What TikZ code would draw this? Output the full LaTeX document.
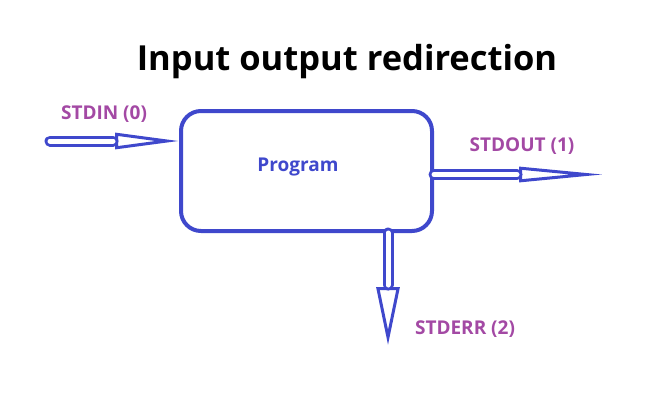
\documentclass[tikz,border=0pt]{standalone}
\usepackage{fontspec}
\setmainfont{Open Sans}
\usetikzlibrary{arrows.meta}

\definecolor{progblue}{HTML}{3F48CC}
\definecolor{streampurple}{HTML}{A349A4}

\begin{document}
\begin{tikzpicture}[
    x=1pt, y=-1pt,
    line cap=round,
    line join=round,
    pipe/.style={progblue, line width=3pt, double=white, double distance=5pt},
    pipehead/.style={progblue, line width=3pt, miter limit=25},
    streamlabel/.style={text=streampurple, font=\bfseries\fontsize{19}{22}\selectfont}
]
\useasboundingbox (0,0) rectangle (667,416);

% Titolo
\node[font=\bfseries\fontsize{34.5}{38}\selectfont] (title) at (347,62) {Input output redirection};

% Programma
\node[draw=progblue, line width=4pt, rounded corners=20pt,
      minimum width=251pt, minimum height=120pt] (prog) at (306.5,171) {};
\node[text=progblue, font=\bfseries\fontsize{19}{22}\selectfont] (progtext) at (298,167) {Program};

% Estremi liberi
\coordinate (inA) at (50,141);
\coordinate (outB) at (603,174.5);
\coordinate (errB) at (388,345);

% Frecce: punta e linea doppia
\draw[pipehead, -{Triangle[open, sharp, fill=white, length=64pt, width=16pt]}]
    (inA) -- (prog.west |- inA);
\draw[pipe, shorten >=66pt]
    (inA) -- (prog.west |- inA);

\draw[pipehead, -{Triangle[open, sharp, fill=white, length=84pt, width=15pt]}]
    (prog.east |- outB) -- (outB);
\draw[pipe, shorten >=86pt]
    (prog.east |- outB) -- (outB);

\draw[pipehead, -{Triangle[open, sharp, fill=white, length=58pt, width=23pt]}]
    (prog.south -| errB) -- (errB);
\draw[pipe, shorten >=60pt]
    (prog.south -| errB) -- (errB);

% Etichette
\node[streamlabel] (stdin) at (104,114) {STDIN (0)};
\node[streamlabel] (stdout) at (522,146) {STDOUT (1)};
\node[streamlabel] (stderr) at (465,329) {STDERR (2)};

\end{tikzpicture}
\end{document}
